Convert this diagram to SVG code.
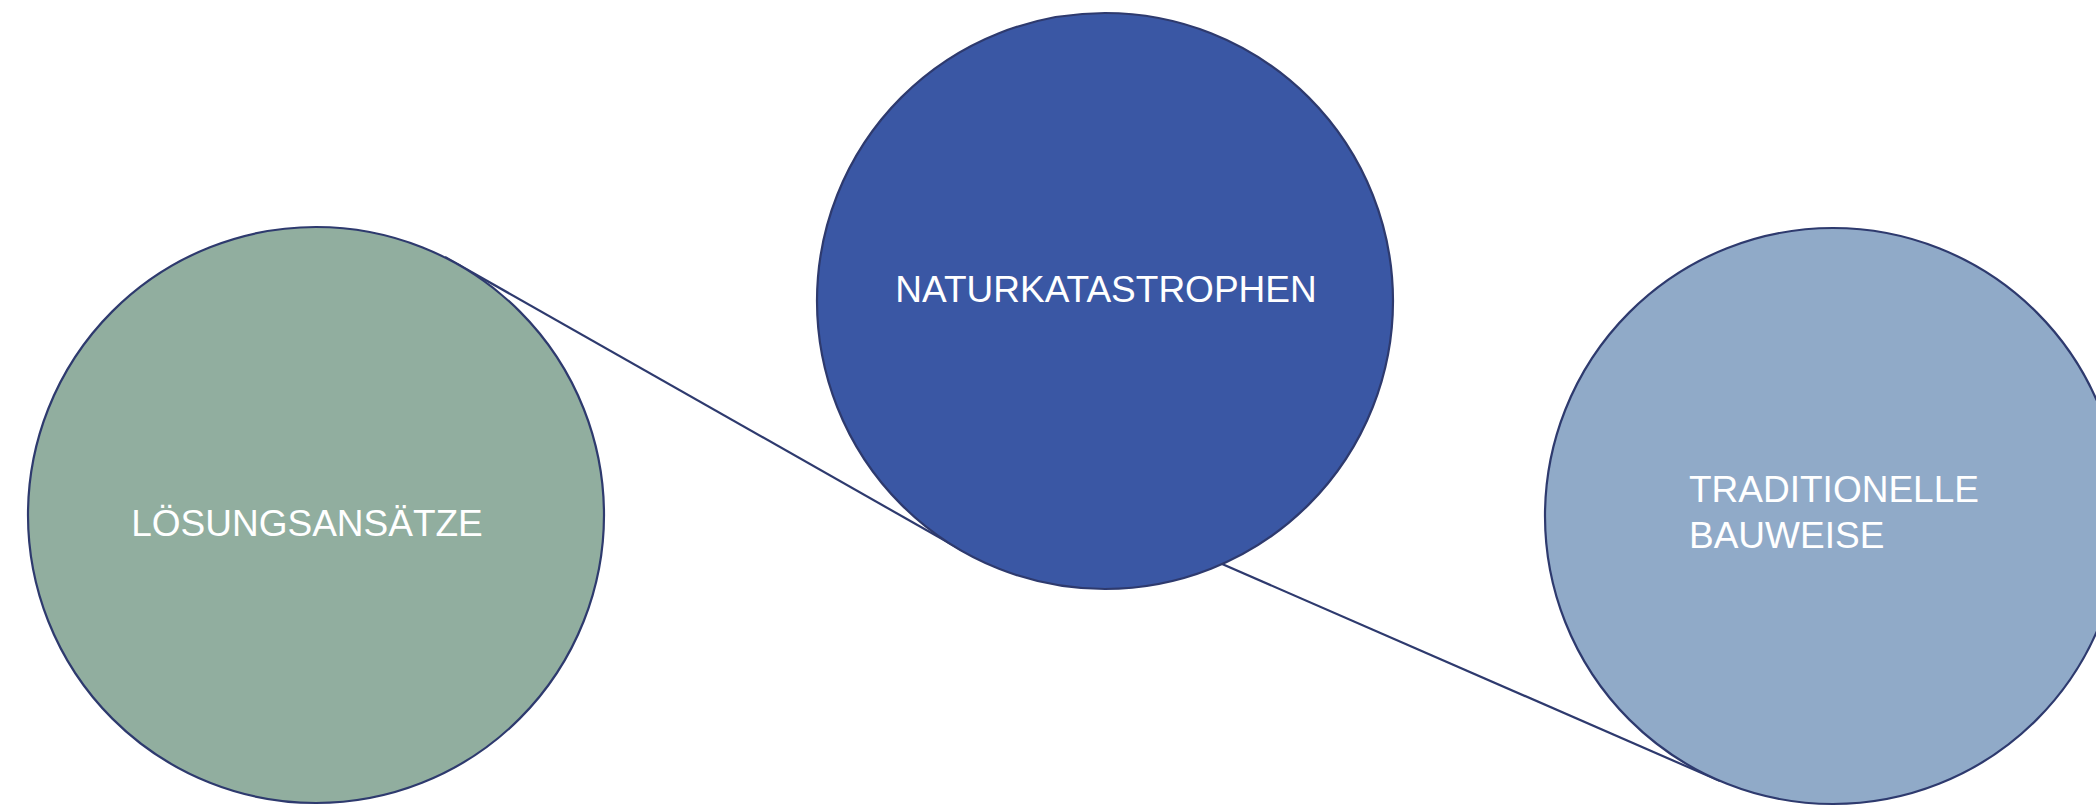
<svg xmlns="http://www.w3.org/2000/svg" width="2096" height="810" viewBox="0 0 2096 810">
<style>
.node{stroke:#2E3A6E;stroke-width:2.2}
.lbl{font-family:"Liberation Sans",Arial,sans-serif;font-size:37px;fill:#FFFFFF}
.conn{stroke:#2E3A6E;stroke-width:2.2;fill:none}
</style>
<rect width="2096" height="810" fill="#FFFFFF"/>
<g id="connectors">
<line class="conn" x1="445" y1="257" x2="965" y2="552"/>
<line class="conn" x1="1190" y1="550" x2="1720" y2="781"/>
</g>
<g id="node-loesungsansaetze">
<circle class="node" cx="316" cy="515" r="288" fill="#91AE9F"/>
<text class="lbl" x="307" y="536" text-anchor="middle">LÖSUNGSANSÄTZE</text>
</g>
<g id="node-naturkatastrophen">
<circle class="node" cx="1105" cy="301" r="288" fill="#3A57A4"/>
<text class="lbl" x="1106" y="302" text-anchor="middle">NATURKATASTROPHEN</text>
</g>
<g id="node-traditionelle-bauweise">
<circle class="node" cx="1833" cy="516" r="288" fill="#90AAC8"/>
<text class="lbl" x="1689" y="502">TRADITIONELLE</text>
<text class="lbl" x="1689" y="548">BAUWEISE</text>
</g>
</svg>
